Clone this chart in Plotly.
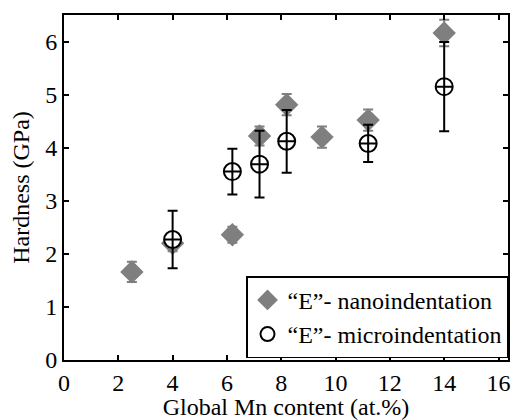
import plotly.graph_objects as go

# Data
nano_x = [2.5, 4.0, 6.2, 7.2, 8.2, 9.5, 11.2, 14.0]
nano_y = [1.66, 2.2, 2.36, 4.22, 4.81, 4.2, 4.52, 6.16]
nano_err = [0.19, 0.15, 0.15, 0.18, 0.2, 0.2, 0.2, 0.25]

micro_x = [4.0, 6.2, 7.2, 8.2, 11.2, 14.0]
micro_y = [2.27, 3.55, 3.69, 4.12, 4.08, 5.15]
micro_err = [0.54, 0.43, 0.63, 0.59, 0.35, 0.84]

x_ticks = [0, 2, 4, 6, 8, 10, 12, 14, 16]
y_ticks = [0, 1, 2, 3, 4, 5, 6]

nano_name = "\u201cE\u201d- nanoindentation"
micro_name = "\u201cE\u201d- microindentation"

GRAY = "#7f7f7f"
FONT = "Liberation Serif"
FS = 24

fig = go.Figure()

fig.add_trace(go.Scatter(
    x=nano_x, y=nano_y, mode="markers", showlegend=False,
    marker=dict(symbol="diamond", size=18, color=GRAY, line=dict(width=0)),
    error_y=dict(type="data", array=nano_err, visible=True, color=GRAY,
                 thickness=2, width=5),
))

fig.add_trace(go.Scatter(
    x=micro_x, y=micro_y, mode="markers", showlegend=False,
    marker=dict(symbol="circle-cross", size=17, color="white",
                line=dict(width=2, color="black")),
    error_y=dict(type="data", array=micro_err, visible=True, color="black",
                 thickness=2, width=5),
))

# legend-only entries
fig.add_trace(go.Scatter(
    x=[None], y=[None], mode="markers", name=nano_name,
    marker=dict(symbol="diamond", size=16, color=GRAY),
))
fig.add_trace(go.Scatter(
    x=[None], y=[None], mode="markers", name=micro_name,
    marker=dict(symbol="circle-open", size=14, color="black",
                line=dict(width=2, color="black")),
))

axis_common = dict(
    showline=True, linecolor="black", linewidth=2, mirror="ticks",
    ticks="inside", ticklen=5, tickwidth=1.5, tickcolor="black",
    showgrid=False, zeroline=False, automargin=False,
    ticklabeloverflow="allow",
    tickfont=dict(family=FONT, size=FS, color="black"),
)

fig.update_xaxes(
    range=[0, 16.35], tickvals=x_ticks, ticktext=[str(v) for v in x_ticks],
    title=dict(text="Global Mn content (at.%)",
               font=dict(family=FONT, size=FS, color="black"), standoff=0),
    **axis_common,
)
fig.update_yaxes(
    range=[0, 6.5], tickvals=y_ticks, ticktext=[str(v) for v in y_ticks],
    title=dict(text="Hardness (GPa)",
               font=dict(family=FONT, size=FS, color="black"), standoff=10),
    **axis_common,
)

fig.update_layout(
    width=512, height=412,
    margin=dict(l=56, r=12, t=7, b=60),
    plot_bgcolor="white", paper_bgcolor="white",
    font=dict(family=FONT, size=FS, color="black"),
    legend=dict(
        x=1.0, y=0.005, xanchor="right", yanchor="bottom",
        bgcolor="white", bordercolor="black", borderwidth=1.5,
        font=dict(family=FONT, size=FS, color="black"),
        itemwidth=30, tracegroupgap=0,
    ),
)

fig.write_html("out.html")
